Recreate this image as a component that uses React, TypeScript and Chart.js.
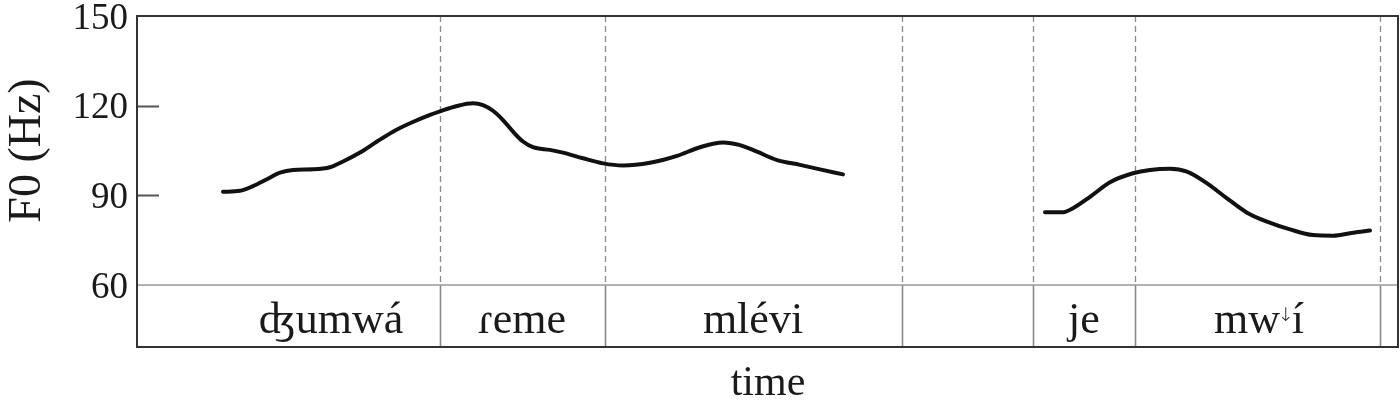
import React, { useEffect, useRef } from "react";
import { Chart, registerables } from "chart.js";

Chart.register(...registerables);

// ---- data ----
const yTickValues = [60, 90, 120, 150];
const timeMax = 1262;

// phrase 1 contour (time units, F0 Hz)
const time1 = [86, 103, 116, 130, 143, 156, 176, 193, 206, 223, 240, 256, 273, 293, 303, 320, 336, 346, 356, 366, 376, 386, 396, 413, 426, 446, 466, 486, 513, 540, 563, 586, 603, 620, 640, 663, 683, 706];
const f0_1 = [91.2, 91.5, 93.1, 95.4, 97.6, 98.5, 98.7, 99.4, 101.3, 104.3, 108.0, 111.3, 114.1, 116.9, 118.1, 119.9, 120.8, 120.2, 118.3, 115.2, 111.3, 108.0, 106.1, 105.2, 104.3, 102.4, 100.7, 100.0, 100.9, 103.2, 106.1, 107.7, 106.8, 104.6, 101.8, 100.2, 98.7, 97.0];

// phrase 2 contour
const time2 = [908, 925, 936, 953, 973, 996, 1013, 1033, 1050, 1070, 1090, 1110, 1130, 1153, 1176, 1196, 1216, 1233];
const f0_2 = [84.3, 84.3, 85.7, 89.5, 94.4, 97.4, 98.5, 98.9, 97.9, 94.0, 89.0, 84.2, 81.2, 78.6, 76.7, 76.5, 77.5, 78.2];

// word tier (a "↓" part is drawn as a small raised downstep arrow)
const boundaries = [303, 468, 765, 896, 998, 1243];
const words = [["ʤumwá"], ["ɾeme"], ["mlévi"], ["je"], ["mw", "↓", "í"]];
const wordCenters = [194, 385, 616, 947, 1122];

const FONT = "'Liberation Serif', 'DejaVu Serif', 'Times New Roman', serif";
const TIER_HEIGHT = 62;

const pairs = (xs: number[], ys: number[]) => xs.map((x, i) => ({ x, y: ys[i] }));

const tierPlugin = {
  id: "tierPlugin",
  beforeDatasetsDraw(chart: any) {
    const { ctx, chartArea, scales } = chart;
    const xs = scales.x;
    ctx.save();
    ctx.strokeStyle = "#8a8a8a";
    ctx.lineWidth = 1.3;
    ctx.setLineDash([6, 4]);
    for (const b of boundaries) {
      const px = Math.round(xs.getPixelForValue(b)) + 0.5;
      ctx.beginPath();
      ctx.moveTo(px, chartArea.top);
      ctx.lineTo(px, chartArea.bottom);
      ctx.stroke();
    }
    ctx.restore();
  },
  afterDraw(chart: any) {
    const { ctx, chartArea, scales } = chart;
    const xs = scales.x;
    const ys = scales.y;
    const { left, right, top, bottom } = chartArea;
    const tierBottom = bottom + TIER_HEIGHT;
    ctx.save();
    // tier separators
    ctx.strokeStyle = "#8a8a8a";
    ctx.lineWidth = 1.6;
    for (const b of boundaries) {
      const px = Math.round(xs.getPixelForValue(b)) + 0.5;
      ctx.beginPath();
      ctx.moveTo(px, bottom);
      ctx.lineTo(px, tierBottom);
      ctx.stroke();
    }
    // line between plot and tier
    ctx.strokeStyle = "#999";
    ctx.lineWidth = 1.6;
    ctx.beginPath();
    ctx.moveTo(left, bottom);
    ctx.lineTo(right, bottom);
    ctx.stroke();
    // inner tick marks
    ctx.strokeStyle = "#555";
    ctx.lineWidth = 2;
    for (const v of yTickValues) {
      if (v === 60 || v === 150) continue;
      const py = Math.round(ys.getPixelForValue(v)) + 0.5;
      ctx.beginPath();
      ctx.moveTo(left, py);
      ctx.lineTo(left + 22, py);
      ctx.stroke();
    }
    // outer frame
    ctx.strokeStyle = "#333";
    ctx.lineWidth = 2;
    ctx.strokeRect(left, top, right - left - 1, tierBottom - top);
    // words
    ctx.fillStyle = "#1a1a1a";
    ctx.textAlign = "left";
    ctx.textBaseline = "alphabetic";
    const baseY = bottom + 48;
    const bigFont = `44px ${FONT}`;
    const smallFont = `300 19px 'DejaVu Sans', ${FONT}`;
    words.forEach((parts, i) => {
      const widths = parts.map((p) => {
        ctx.font = p === "↓" ? smallFont : bigFont;
        return ctx.measureText(p).width - (p === "↓" ? 4 : 0);
      });
      const total = widths.reduce((a, b) => a + b, 0);
      let x = xs.getPixelForValue(wordCenters[i]) - total / 2;
      parts.forEach((p, j) => {
        if (p === "↓") {
          ctx.font = smallFont;
          ctx.fillText(p, x - 2, baseY - 12);
        } else {
          ctx.font = bigFont;
          ctx.fillText(p, x, baseY);
        }
        x += widths[j];
      });
    });
    ctx.restore();
  },
};

export default function App() {
  const canvasRef = useRef<HTMLCanvasElement | null>(null);

  useEffect(() => {
    if (!canvasRef.current) return;
    const lineStyle = {
      borderColor: "#111",
      borderWidth: 4,
      pointRadius: 0,
      tension: 0.4,
      cubicInterpolationMode: "monotone" as const,
      borderCapStyle: "round" as const,
      borderJoinStyle: "round" as const,
      fill: false,
    };
    const chart = new Chart(canvasRef.current, {
      type: "line",
      data: {
        datasets: [
          { label: "phrase 1", data: pairs(time1, f0_1), ...lineStyle },
          { label: "phrase 2", data: pairs(time2, f0_2), ...lineStyle },
        ],
      },
      options: {
        animation: false,
        responsive: true,
        maintainAspectRatio: false,
        layout: { padding: { top: 16, right: 1, left: 0, bottom: 0 } },
        plugins: { legend: { display: false }, tooltip: { enabled: false } },
        scales: {
          x: {
            type: "linear",
            min: 0,
            max: timeMax,
            grid: { display: false, drawTicks: false },
            border: { display: false },
            ticks: { display: false },
            title: {
              display: true,
              text: "time",
              color: "#1a1a1a",
              font: { family: FONT, size: 42, lineHeight: 1 },
              padding: { top: 0, bottom: 1 },
            },
            afterFit: (s: any) => {
              s.height = 406 - 285;
              s.paddingLeft = 0;
              s.paddingRight = 0;
            },
          },
          y: {
            type: "linear",
            min: 60,
            max: 150,
            grid: { display: false, drawTicks: false },
            border: { display: false },
            afterBuildTicks: (s: any) => {
              s.ticks = yTickValues.map((v) => ({ value: v }));
            },
            ticks: {
              color: "#1a1a1a",
              padding: 9,
              labelOffset: 3,
              font: { family: FONT, size: 37 },
            },
            title: {
              display: true,
              text: "F0 (Hz)",
              color: "#1a1a1a",
              font: { family: FONT, size: 46 },
              padding: { top: 0, bottom: 0 },
            },
            afterFit: (s: any) => {
              s.width = 137;
              s.paddingTop = 0;
              s.paddingBottom = 0;
            },
          },
        },
      },
      plugins: [tierPlugin],
    });
    return () => chart.destroy();
  }, []);

  return (
    <div style={{ position: "fixed", left: 0, top: 0, width: 1400, height: 406, background: "#fff" }}>
      <canvas ref={canvasRef} />
    </div>
  );
}
